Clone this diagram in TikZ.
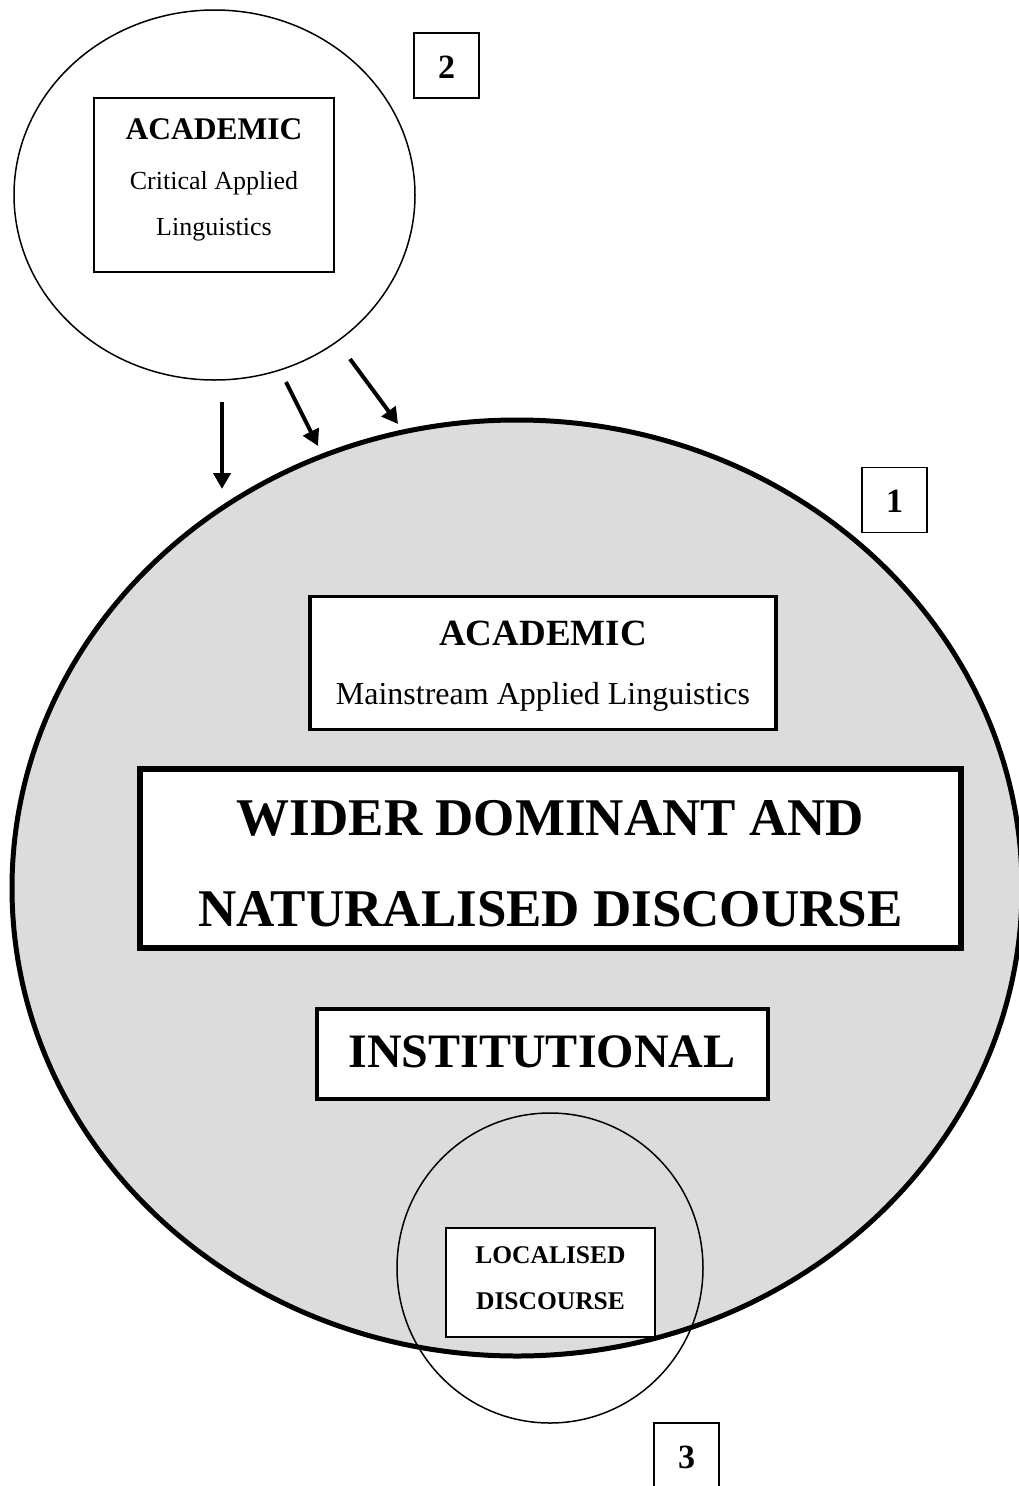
\documentclass[tikz,border=0pt]{standalone}
\usepackage{fontspec}
\setmainfont{Liberation Serif}
\usetikzlibrary{shapes.geometric,arrows.meta}
\definecolor{bggray}{HTML}{DCDCDC}
\begin{document}
\begin{tikzpicture}[x=1pt,y=-1pt,
  thinell/.style={draw, ellipse, line width=1.5pt, inner sep=0pt},
  bigell/.style={draw, ellipse, line width=5pt, fill=bggray, inner sep=0pt},
  boxnode/.style={draw, rectangle, fill=white, inner sep=0pt},
  numbox/.style={draw, rectangle, line width=1.8pt, inner sep=0pt, minimum width=65pt, minimum height=65pt},
  lbl/.style={anchor=base, inner sep=0pt},
  arr/.style={line width=4pt, -{Triangle[length=16pt,width=17pt]}}
]
\useasboundingbox (0,0) rectangle (1018,1486);
\fill[white] (0,0) rectangle (1018,1486);

% big circle 1
\node[bigell, minimum width=1010pt, minimum height=936pt] (big) at (517,888) {};

% small circle 2
\node[thinell, minimum width=401pt, minimum height=370pt] (c2) at (214.5,195) {};
\node[boxnode, line width=1.6pt, minimum width=240pt, minimum height=174pt] (b2) at (214,185) {};
\node[lbl, font=\fontsize{31.5}{36}\selectfont\bfseries] (t2a) at (214,139) {ACADEMIC};
\node[lbl, font=\fontsize{26}{30}\selectfont] (t2b) at (214,189) {Critical Applied};
\node[lbl, font=\fontsize{26}{30}\selectfont] (t2c) at (214,235) {Linguistics};

% number boxes
\node[numbox] (n2) at (446.5,65.5) {};
\node[lbl, font=\fontsize{34}{40}\selectfont\bfseries] (n2t) at (446.5,78.5) {2};
\node[numbox] (n1) at (894.5,500) {};
\node[lbl, font=\fontsize{34}{40}\selectfont\bfseries] (n1t) at (894.5,512.5) {1};
\node[draw, rectangle, line width=1.8pt, inner sep=0pt, minimum width=65pt, minimum height=70pt] (n3) at (686.5,1458) {};
\node[lbl, font=\fontsize{34}{40}\selectfont\bfseries] (n3t) at (686.5,1468) {3};

% arrows from circle 2 to circle 1
\coordinate (a1s) at (222,402); \coordinate (a1e) at (222,489);
\coordinate (a2s) at (286,382); \coordinate (a2e) at (318,446);
\coordinate (a3s) at (350,359); \coordinate (a3e) at (398,424);
\draw[arr] (a1s) -- (a1e);
\draw[arr] (a2s) -- (a2e);
\draw[arr] (a3s) -- (a3e);

% mainstream box
\node[boxnode, line width=3.5pt, minimum width=466pt, minimum height=133pt] (bm) at (543,663) {};
\node[lbl, font=\fontsize{37}{42}\selectfont\bfseries] (tma) at (543,645) {ACADEMIC};
\node[lbl, font=\fontsize{32}{36}\selectfont] (tmb) at (543,704) {Mainstream Applied Linguistics};

% wide box
\node[boxnode, line width=5.5pt, minimum width=821pt, minimum height=179pt] (bw) at (550.5,858.5) {};
\node[lbl, font=\fontsize{53}{60}\selectfont\bfseries] (twa) at (550.5,835) {WIDER DOMINANT AND};
\node[lbl, font=\fontsize{53}{60}\selectfont\bfseries] (twb) at (550.5,926) {NATURALISED DISCOURSE};

% institutional box
\node[boxnode, line width=4pt, minimum width=451pt, minimum height=90pt] (bi) at (542,1054) {};
\node[lbl, font=\fontsize{48}{54}\selectfont\bfseries] (ti) at (542,1067) {INSTITUTIONAL};

% localised circle 3
\node[boxnode, line width=1.8pt, minimum width=209pt, minimum height=109pt] (bl) at (550.5,1282.5) {};
\node[lbl, font=\fontsize{25.5}{30}\selectfont\bfseries] (tla) at (550.5,1263) {LOCALISED};
\node[lbl, font=\fontsize{25.5}{30}\selectfont\bfseries] (tlb) at (550.5,1309) {DISCOURSE};
\node[thinell, minimum width=306pt, minimum height=310pt] (c3) at (550,1268) {};
\end{tikzpicture}
\end{document}
